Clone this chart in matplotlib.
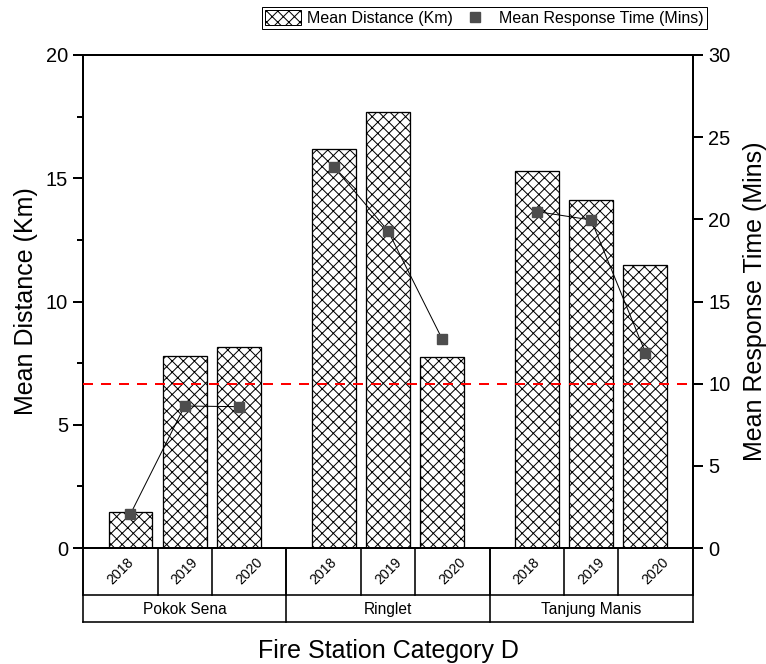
import matplotlib
matplotlib.use('Agg')
import matplotlib.pyplot as plt
from matplotlib.lines import Line2D
from matplotlib.patches import Patch
from matplotlib.ticker import MultipleLocator
import matplotlib.transforms as mtrans

stations = ['Pokok Sena', 'Ringlet', 'Tanjung Manis']
years = ['2018', '2019', '2020']
mean_distance = [1.48, 7.80, 8.14, 16.19, 17.69, 7.74, 15.29, 14.10, 11.48]
mean_response = [2.07, 8.64, 8.60, 23.19, 19.31, 12.72, 20.47, 19.96, 11.89]
threshold = 10

DPI = 100
P = 72 / DPI  # points per pixel
W, H = 766, 664

plt.rcParams['font.family'] = ['Liberation Sans', 'DejaVu Sans']
plt.rcParams['hatch.linewidth'] = 1.0 * P

fig = plt.figure(figsize=(W / DPI, H / DPI), dpi=DPI)
ax = fig.add_axes([83 / W, 1 - 548 / H, 610 / W, 493 / H])
ax2 = ax.twinx()

gap = 1.75
step = 2 + gap
pos = [g * step + i for g in range(len(stations)) for i in range(len(years))]

ax.bar(pos, mean_distance, width=0.81, facecolor='white', edgecolor='black',
       hatch='xxx', linewidth=1.3 * P, zorder=2)

for g in range(len(stations)):
    sl = slice(g * 3, g * 3 + 3)
    ax2.plot(pos[sl], mean_response[sl], color='black', lw=1.0 * P, marker='s',
             ms=10 * P, mfc='#4d4d4d', mec='#4d4d4d', zorder=4)

ax2.axhline(threshold, color='red', lw=2 * P, dashes=(5, 4), zorder=3)

ax.set_xlim(-0.876, 10.378)
ax.set_ylim(0, 20)
ax2.set_ylim(0, 30)
ax.set_xticks([])
ax.set_yticks([0, 5, 10, 15, 20])
ax.yaxis.set_minor_locator(MultipleLocator(2.5))
ax2.set_yticks([0, 5, 10, 15, 20, 25, 30])

for a in (ax, ax2):
    for s in a.spines.values():
        s.set_linewidth(2 * P)
ax.tick_params(axis='y', which='major', length=10 * P, width=2 * P, direction='out',
               labelsize=20 * P, pad=5 * P)
ax.tick_params(axis='y', which='minor', length=6 * P, width=2 * P, direction='out')
ax2.tick_params(axis='y', which='major', length=10 * P, width=2 * P, direction='out',
                labelsize=20 * P, pad=5 * P)
ax2.tick_params(axis='y', which='minor', length=0)

# category table below the axes
tr = mtrans.blended_transform_factory(ax.transData, ax.transAxes)
row1 = -47 / 493
row2 = -74 / 493
x0, x1 = ax.get_xlim()
lw_t = 1.6 * P

group_edges = [x0] + [g * step - gap / 2 for g in range(1, len(stations))] + [x1]
year_edges = []
for g in range(len(stations)):
    year_edges.append(group_edges[g])
    for i in range(len(years) - 1):
        year_edges.append(g * step + i + 0.5)
year_edges.append(x1)

for yy in (row1, row2):
    ax.plot([x0, x1], [yy, yy], transform=tr, color='black', lw=lw_t, clip_on=False)
for xx in group_edges:
    ax.plot([xx, xx], [0, row2], transform=tr, color='black', lw=lw_t, clip_on=False)
for xx in year_edges:
    ax.plot([xx, xx], [0, row1], transform=tr, color='black', lw=lw_t, clip_on=False)

for k in range(len(pos)):
    xc = (year_edges[k] + year_edges[k + 1]) / 2
    ax.text(xc, -23.5 / 493, years[k % 3], transform=tr, rotation=45, ha='center',
            va='center', fontsize=14 * P)
for g, st in enumerate(stations):
    xc = (group_edges[g] + group_edges[g + 1]) / 2
    ax.text(xc, -(614.3 - 548) / 493, st, transform=tr, ha='center',
            va='baseline', fontsize=15.5 * P)

# axis titles
fig.text(33 / W, 1 - 301.5 / H, 'Mean Distance (Km)', rotation=90, rotation_mode='anchor',
         ha='center', va='baseline', fontsize=25 * P)
fig.text(762 / W, 1 - 301.5 / H, 'Mean Response Time (Mins)', rotation=90,
         rotation_mode='anchor', ha='center', va='baseline', fontsize=25 * P)
fig.text(388 / W, 1 - 658 / H, 'Fire Station Category D', ha='center', va='baseline',
         fontsize=25 * P)

handles = [Patch(facecolor='white', edgecolor='black', hatch='xxx', linewidth=1.0 * P),
           Line2D([], [], ls='none', marker='s', ms=10 * P, color='#4d4d4d')]
leg = fig.legend(handles, ['Mean Distance (Km)', 'Mean Response Time (Mins)'], ncol=2,
                 loc='upper right', bbox_to_anchor=(707 / W, 1 - 7 / H), borderaxespad=0,
                 fontsize=16 * P, frameon=True, fancybox=False, edgecolor='black',
                 framealpha=1, handlelength=2.2, handleheight=1.0, handletextpad=0.4,
                 columnspacing=0.3, borderpad=0.2)
leg.get_frame().set_linewidth(1.0 * P)

fig.savefig('out.png', dpi=DPI)
